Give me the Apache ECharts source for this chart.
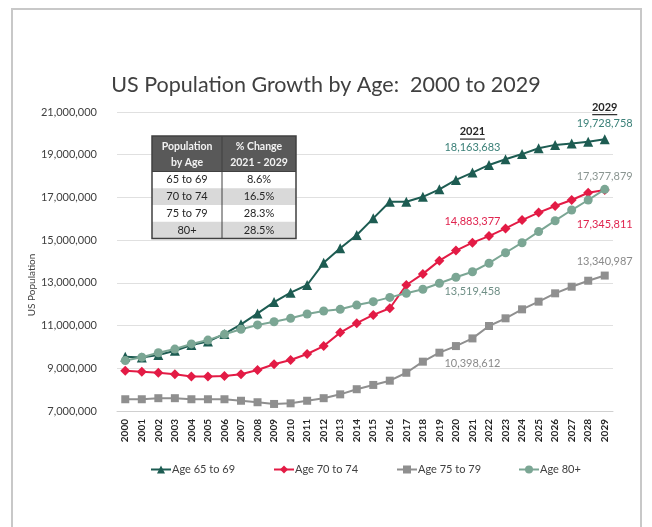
<!DOCTYPE html>
<html><head><meta charset="utf-8">
<script src="https://cdn.jsdelivr.net/npm/echarts@6/dist/echarts.min.js"></script>
<style>html,body{margin:0;padding:0;background:#fff}#c{width:652px;height:527px}</style>
</head><body><div id="c"></div>
<script>
const years = ['2000','2001','2002','2003','2004','2005','2006','2007','2008','2009','2010','2011','2012','2013','2014','2015','2016','2017','2018','2019','2020','2021','2022','2023','2024','2025','2026','2027','2028','2029'];
const age65to69 = [9540000,9510000,9620000,9820000,10090000,10250000,10610000,11060000,11570000,12100000,12540000,12900000,13940000,14620000,15240000,16020000,16800000,16800000,17030000,17380000,17820000,18163683,18520000,18790000,19030000,19300000,19460000,19530000,19610000,19728758];
const age70to74 = [8890000,8840000,8790000,8720000,8610000,8610000,8640000,8720000,8920000,9190000,9390000,9670000,10040000,10670000,11110000,11500000,11810000,12900000,13420000,14040000,14510000,14883377,15190000,15550000,15940000,16290000,16600000,16880000,17220000,17345811];
const age75to79 = [7550000,7550000,7600000,7600000,7550000,7550000,7550000,7480000,7410000,7330000,7360000,7480000,7600000,7780000,8020000,8220000,8420000,8790000,9310000,9730000,10040000,10398612,10980000,11340000,11760000,12120000,12510000,12820000,13100000,13340987];
const age80plus = [9360000,9520000,9730000,9900000,10140000,10320000,10590000,10830000,11030000,11180000,11340000,11540000,11680000,11760000,11960000,12120000,12320000,12510000,12700000,12980000,13260000,13519458,13920000,14410000,14880000,15400000,15910000,16410000,16880000,17377879];
const seriesNames = ['Age 65 to 69','Age 70 to 74','Age 75 to 79','Age 80+'];
const tableHeader = ['Population\nby Age','% Change\n2021 - 2029'];
const tableGroups = ['65 to 69','70 to 74','75 to 79','80+'];
const tableChanges = ['8.6%','16.5%','28.3%','28.5%'];
const titleText = 'US Population Growth by Age:  2000 to 2029';
const yAxisTitle = 'US Population';

const FONT = 'Lato';
const C1 = '#1d5c52', C2 = '#e31b45', C3 = '#8f8f8f', C4 = '#7ba694';
const fmt = v => Math.round(v).toLocaleString('en-US');

const headLabel = (dist) => ({
  show: true, position: 'top', distance: dist,
  formatter: p => '{y|' + years[p.dataIndex] + '}\n{u| }\n{v|' + fmt(p.value) + '}',
  rich: {
    y: {fontFamily: FONT, fontSize: 11, fontWeight: 'bold', color: '#262626', lineHeight: 12, align: 'center'},
    u: {width: 25, height: 1.2, backgroundColor: '#262626', lineHeight: 3, fontSize: 1, align: 'center'},
    v: {fontFamily: FONT, fontSize: 11, color: '#3b8078', lineHeight: 14, align: 'center'}
  }
});
const valLabel = (pos, dist, color) => ({
  show: true, position: pos, distance: dist, color: color,
  fontFamily: FONT, fontSize: 11, formatter: p => fmt(p.value)
});

const labels65 = {21: headLabel(13), 29: headLabel(4)};
const labels70 = {21: valLabel('top', 11, '#e0244f'), 29: valLabel('bottom', 24, '#e0244f')};
const labels75 = {21: valLabel('bottom', 16, '#8a8a8a'), 29: valLabel('top', 5, '#8a8a8a')};
const labels80 = {21: valLabel('bottom', 10, '#6f8f86'), 29: valLabel('top', 3, '#8a9591')};

const withLabels = (vals, lab) => vals.map((v, i) => lab[i] ? {value: v, label: lab[i]} : v);

const mk = (name, vals, lab, color, symbol, size) => ({
  name, type: 'line', data: withLabels(vals, lab), symbol, symbolSize: size,
  lineStyle: {width: 2, color}, itemStyle: {color}, label: {show: false},
  emphasis: {disabled: true}, animation: false
});

// table graphic
const tx = 152, ty = 136, cw1 = 70, cw2 = 74, hh = 35.5, rh = 16.75;
const TZ = 100;
const tableEls = [];
tableEls.push({type: 'rect', z: TZ, shape: {x: tx, y: ty, width: cw1 + cw2, height: hh}, style: {fill: '#595959'}});
tableGroups.forEach((g, i) => {
  tableEls.push({type: 'rect', z: TZ, shape: {x: tx, y: ty + hh + i * rh, width: cw1 + cw2, height: rh}, style: {fill: i % 2 ? '#d9d9d9' : '#ffffff'}});
  tableEls.push({type: 'text', z: TZ + 1, style: {text: g, x: tx + cw1 / 2, y: ty + hh + i * rh + rh / 2, align: 'center', verticalAlign: 'middle', fontFamily: FONT, fontSize: 11, fill: '#262626'}});
  tableEls.push({type: 'text', z: TZ + 1, style: {text: tableChanges[i], x: tx + cw1 + cw2 / 2, y: ty + hh + i * rh + rh / 2, align: 'center', verticalAlign: 'middle', fontFamily: FONT, fontSize: 11, fill: '#262626'}});
});
tableEls.push({type: 'text', z: TZ + 1, style: {text: tableHeader[0], x: tx + cw1 / 2, y: ty + hh / 2 + 1, align: 'center', verticalAlign: 'middle', fontFamily: FONT, fontSize: 10.5, fontWeight: 'bold', lineHeight: 15.5, fill: '#f2f2f2'}});
tableEls.push({type: 'text', z: TZ + 1, style: {text: tableHeader[1], x: tx + cw1 + cw2 / 2, y: ty + hh / 2 + 1, align: 'center', verticalAlign: 'middle', fontFamily: FONT, fontSize: 10.5, fontWeight: 'bold', lineHeight: 15.5, fill: '#f2f2f2'}});
tableEls.push({type: 'line', z: TZ + 2, shape: {x1: tx + cw1, y1: ty, x2: tx + cw1, y2: ty + hh + 4 * rh}, style: {stroke: '#404040', lineWidth: 1}});
tableEls.push({type: 'line', z: TZ + 2, shape: {x1: tx, y1: ty + hh, x2: tx + cw1 + cw2, y2: ty + hh}, style: {stroke: '#404040', lineWidth: 1}});
tableEls.push({type: 'rect', z: TZ + 2, shape: {x: tx, y: ty, width: cw1 + cw2, height: hh + 4 * rh}, style: {fill: 'none', stroke: '#404040', lineWidth: 1.5}});

const legendPos = [145, 268, 391, 513];

const chart = echarts.init(document.getElementById('c'), null, {renderer: 'canvas'});
chart.setOption({
  backgroundColor: '#ffffff',
  animation: false,
  title: {text: titleText, left: 'center', top: 69, textStyle: {fontFamily: FONT, fontSize: 21.5, fontWeight: 'normal', color: '#404040'}},
  grid: {left: 117, top: 112, width: 496, height: 299, containLabel: false},
  xAxis: {
    type: 'category', data: years, boundaryGap: true,
    axisLine: {lineStyle: {color: '#d0d0d0', width: 1}}, axisTick: {show: false},
    axisLabel: {rotate: 90, interval: 0, margin: 8, fontFamily: FONT, fontSize: 10, fontWeight: 'bold', color: '#262626'}
  },
  yAxis: {
    type: 'value', min: 7000000, max: 21000000, interval: 2000000,
    axisLine: {show: false}, axisTick: {show: false},
    splitLine: {lineStyle: {color: '#e0e0e0', width: 1}},
    axisLabel: {margin: 20, fontFamily: FONT, fontSize: 11, color: '#404040', formatter: v => fmt(v)}
  },
  legend: seriesNames.map((n, i) => ({
    data: [n], left: legendPos[i], top: 459, itemWidth: 20, itemHeight: 10, itemGap: 0,
    selectedMode: false, textStyle: {fontFamily: FONT, fontSize: 11, color: '#404040', padding: [0, 0, 0, -4]}
  })),
  series: [
    mk(seriesNames[0], age65to69, labels65, C1, 'triangle', 10),
    mk(seriesNames[1], age70to74, labels70, C2, 'diamond', 10),
    mk(seriesNames[2], age75to79, labels75, C3, 'rect', 8),
    mk(seriesNames[3], age80plus, labels80, C4, 'circle', 9)
  ],
  graphic: {elements: [
    {type: 'rect', silent: true, z: -10, shape: {x: 12, y: 9, width: 629, height: 540}, style: {fill: 'none', stroke: '#c8c8c8', lineWidth: 2}},
    {type: 'text', silent: true, x: 32, y: 285, rotation: Math.PI / 2, style: {text: yAxisTitle, align: 'center', verticalAlign: 'middle', fontFamily: FONT, fontSize: 10, fill: '#404040'}},
    {type: 'group', silent: true, z: TZ, children: tableEls}
  ]}
});
</script></body></html>
